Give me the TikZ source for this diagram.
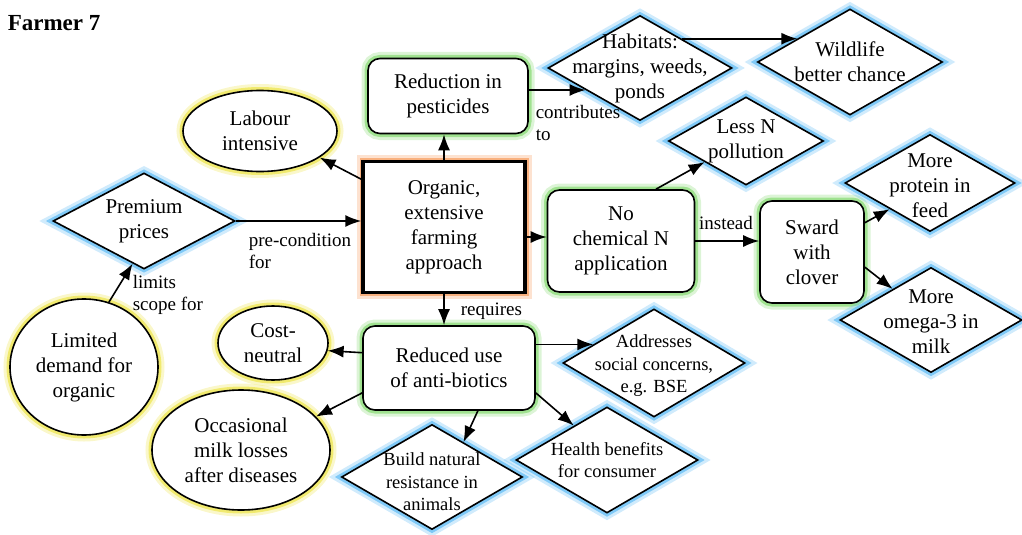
\documentclass[tikz,border=0pt]{standalone}
\usepackage{fontspec}
\setmainfont{Liberation Serif}
\usepackage{xcolor}
\usetikzlibrary{shapes.geometric,arrows.meta}
\definecolor{glowblue}{RGB}{100,190,245}
\definecolor{glowyellow}{RGB}{238,230,80}
\definecolor{glowgreen}{RGB}{140,220,120}
\definecolor{gloworange}{RGB}{248,160,100}

\tikzset{
  glow/.style={preaction={draw=#1, line width=13pt, opacity=0.3},
               preaction={draw=#1, line width=7pt, opacity=0.75}},
  txt/.style={font=\fontsize{21}{25}\selectfont, align=center},
  lbl/.style={font=\fontsize{19}{22}\selectfont, align=left, inner sep=0pt},
  diam/.style={diamond, draw, fill=white, inner sep=0pt, glow=glowblue},
  oval/.style={ellipse, draw, fill=white, inner sep=0pt, txt, glow=glowyellow},
  rbox/.style={rectangle, rounded corners=12pt, draw, fill=white, inner sep=0pt, txt, glow=glowgreen},
}

\begin{document}
\begin{tikzpicture}[x=1pt, y=-1pt, line width=1.6pt, >={Latex[length=16pt,width=12pt]}]
\useasboundingbox (0,0) rectangle (1022,535);

\node[anchor=west, inner sep=0pt, font=\fontsize{23}{27}\selectfont\bfseries] (title) at (7,23) {Farmer 7};

% centre
\node[rectangle, draw, fill=white, line width=3.5pt, txt, glow=gloworange, minimum width=162pt, minimum height=131pt] (org) at (444,227) {Organic,\\extensive\\farming\\approach};

% ovals
\node[oval, minimum width=154pt, minimum height=81pt] (lab) at (260,131) {Labour\\intensive};
\node[oval, minimum width=148pt, minimum height=136pt] (ltd) at (84,367) {Limited\\demand for\\organic};
\node[oval, minimum width=110pt, minimum height=74pt] (cost) at (273,343) {Cost-\\neutral};
\node[oval, minimum width=178pt, minimum height=120pt] (occ) at (241,450) {Occasional\\milk losses\\after diseases};

% boxes
\node[rbox, minimum width=160pt, minimum height=75pt] (red) at (448,96) {Reduction in\\pesticides};
\node[rbox, minimum width=147pt, minimum height=102pt] (non) at (621,241) {No\\chemical N\\application};
\node[rbox, minimum width=104pt, minimum height=102pt] (sward) at (812,252) {Sward\\with\\clover};
\node[rbox, minimum width=172pt, minimum height=84pt] (abx) at (449,368) {Reduced use\\of anti-biotics};

% diamonds
\node[diam, minimum width=182pt, minimum height=96pt, label={[txt]center:{Premium\\prices}}] (prem) at (144,221) {};
\node[diam, minimum width=184pt, minimum height=105pt, label={[txt]center:{Habitats:\\margins, weeds,\\ponds}}] (hab) at (640,68) {};
\node[diam, minimum width=185pt, minimum height=106pt, label={[txt]center:{Wildlife\\better chance}}] (wild) at (850,62) {};
\node[diam, minimum width=155pt, minimum height=88pt, label={[txt]center:{Less N\\pollution}}] (lessn) at (746,141) {};
\node[diam, minimum width=170pt, minimum height=97pt, label={[txt, yshift=-3pt]center:{More\\protein in\\feed}}] (prot) at (930,183) {};
\node[diam, minimum width=182pt, minimum height=105pt, label={[txt, yshift=-2pt]center:{More\\omega-3 in\\milk}}] (omega) at (931,320) {};
\node[diam, minimum width=182pt, minimum height=108pt, label={[txt, font=\fontsize{18.5}{22.5}\selectfont, yshift=-3pt]center:{Addresses\\social concerns,\\e.g. BSE}}] (addr) at (654,363) {};
\node[diam, minimum width=182pt, minimum height=106pt, label={[txt, font=\fontsize{18.5}{22.5}\selectfont]center:{Health benefits\\for consumer}}] (hlth) at (607,460) {};
\node[diam, minimum width=181pt, minimum height=105pt, label={[txt, font=\fontsize{18.5}{22.5}\selectfont, yshift=-5pt]center:{Build natural\\resistance in\\animals}}] (build) at (432,477) {};

% arrows
\draw[->] (org.150) -- (lab.-24);
\draw[->] (org.north) -- (org.north |- red.south);
\draw[->] (red.east |- hab.202) -- (hab.202);
\draw[->] (hab.35) -- (hab.35 -| wild.156);
\draw[->] ([yshift=-10pt]org.east) -- ([yshift=-10pt]org.east -| non.west);
\draw[->] (non.56) -- (lessn.207);
\draw[->] (non.east) -- (non.east -| sward.west);
\draw[->] (sward.29) -- (prot.213);
\draw[->] (sward.-16) -- (omega.141);
\draw[->] (prem.east) -- (prem.east -| org.west);
\draw[->] (ltd.69) -- (prem.255);
\draw[->] (org.south) -- (org.south |- abx.north);
\draw[->] (abx.170) -- (cost.-8);
\draw[->] (abx.196) -- (occ.24);
\draw[->] (abx.east |- addr.163) -- (addr.163);
\draw[->] (abx.-56) -- (build.48);
\draw[->] (abx.-16) -- (hlth.134);

% link labels
\node[lbl, anchor=north west] (tcontr) at (535,105) {contributes\\to};
\node[lbl, anchor=west] (tprecond) at (248,251) {pre-condition\\for};
\node[lbl, anchor=west] (tlimits) at (132,295) {limits\\scope for};
\node[lbl] (tinstead) at (726,223) {instead};
\node[lbl, anchor=west] (treq) at (460,311) {requires};
\end{tikzpicture}
\end{document}
